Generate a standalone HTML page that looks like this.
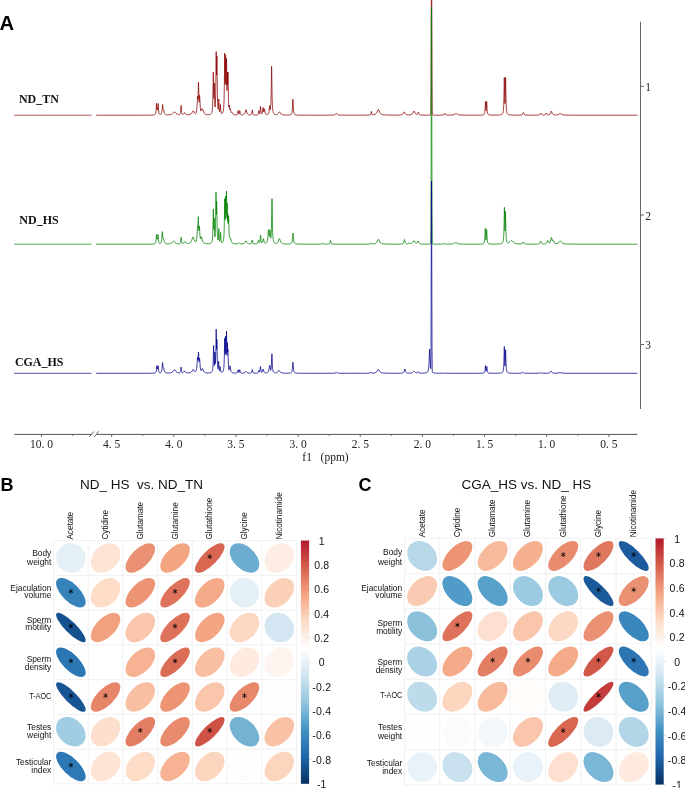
<!DOCTYPE html><html><head><meta charset="utf-8"><style>html,body{margin:0;padding:0;background:#fff;width:685px;height:788px;overflow:hidden}svg{display:block;will-change:transform}.sans{font-family:"Liberation Sans",sans-serif}.serif{font-family:"Liberation Serif",serif}</style></head><body>
<svg width="685" height="788" viewBox="0 0 685 788">
<rect width="685" height="788" fill="#fff"/>
<text class="sans" x="-0.4" y="30.1" font-size="20.3" font-weight="bold" fill="#000">A</text>
<g class="serif" font-size="12.8" font-weight="bold" fill="#111">
<text x="18.9" y="102.6" textLength="39.9" lengthAdjust="spacingAndGlyphs">ND_TN</text>
<text x="19.3" y="223.6" textLength="39.5" lengthAdjust="spacingAndGlyphs">ND_HS</text>
<text x="14.9" y="365.5" textLength="48.6" lengthAdjust="spacingAndGlyphs">CGA_HS</text>
</g>
<path d="M14,115.20 L91.5,115.20" stroke="#8b0000" stroke-width="0.8" fill="none" opacity="0.85"/>
<path d="M96.20,115.20 L146.40,115.16 L151.60,115.09 L153.90,114.91 L154.60,114.70 L155.10,114.37 L155.40,113.96 L155.70,113.13 L155.90,112.03 L156.10,109.93 L156.50,103.30 L156.90,108.94 L157.00,109.25 L157.20,108.18 L157.30,108.00 L157.40,108.24 L157.70,110.02 L158.20,103.50 L158.60,109.99 L158.90,112.65 L159.10,113.44 L159.30,113.90 L159.60,114.28 L160.10,114.56 L160.60,114.45 L161.10,114.10 L161.40,113.67 L161.70,112.85 L162.10,110.25 L162.50,104.94 L162.60,104.40 L162.70,104.80 L163.00,108.50 L163.20,110.07 L163.40,109.95 L163.60,110.17 L164.30,112.67 L164.80,113.77 L165.40,114.37 L166.20,114.72 L167.50,114.92 L168.50,114.89 L170.10,114.73 L171.30,114.44 L171.90,114.17 L172.50,113.76 L173.00,113.25 L173.90,112.10 L174.20,111.85 L174.40,111.80 L174.80,112.00 L176.00,113.46 L176.90,114.15 L177.60,114.45 L178.50,114.64 L179.20,114.70 L179.60,114.54 L179.90,114.28 L180.20,113.77 L180.50,112.57 L180.70,110.82 L181.10,105.30 L181.50,110.81 L181.70,112.55 L182.00,113.73 L182.30,114.23 L182.60,114.46 L183.00,114.37 L183.40,114.12 L183.80,113.69 L184.40,112.80 L184.70,112.60 L185.00,112.81 L185.90,114.06 L186.30,114.38 L186.80,114.61 L188.00,114.83 L189.20,114.72 L190.20,114.48 L191.00,114.09 L191.60,113.53 L192.10,112.75 L192.90,111.06 L193.20,110.80 L193.50,111.02 L194.60,113.05 L195.10,113.52 L195.50,113.66 L195.90,113.20 L196.30,112.29 L196.60,110.97 L196.80,109.48 L197.10,105.48 L197.50,96.94 L197.60,96.00 L197.70,96.30 L197.90,99.08 L198.00,99.31 L198.40,83.71 L198.50,82.00 L199.10,102.10 L199.50,95.50 L199.60,95.00 L199.70,95.86 L200.30,107.64 L200.50,109.48 L200.80,110.88 L201.60,108.73 L201.80,108.50 L201.90,108.53 L202.10,108.87 L202.60,110.19 L202.90,109.96 L203.10,110.12 L204.20,112.99 L204.60,113.61 L205.20,114.13 L206.20,114.54 L207.80,114.75 L209.40,114.59 L210.50,114.23 L210.90,113.97 L211.30,113.56 L211.80,112.56 L212.20,110.78 L212.50,107.81 L212.70,103.84 L212.90,96.23 L213.30,72.20 L213.80,97.89 L213.90,98.34 L214.30,83.00 L214.80,103.09 L215.00,106.62 L215.10,107.05 L215.20,106.26 L215.50,101.11 L215.70,93.32 L216.20,51.60 L216.50,73.06 L216.60,75.11 L216.90,56.00 L217.40,95.04 L217.60,102.40 L217.90,107.49 L218.20,109.38 L218.30,108.45 L218.80,99.00 L219.20,107.57 L219.40,110.24 L219.60,111.53 L219.70,111.87 L219.90,110.82 L220.40,104.50 L220.90,111.17 L221.20,112.83 L221.60,113.61 L222.10,113.41 L222.50,112.99 L222.90,112.24 L223.20,111.25 L223.60,108.68 L223.90,104.39 L224.10,98.66 L224.30,87.73 L224.70,53.10 L225.10,82.73 L225.20,83.85 L225.60,55.00 L226.00,83.87 L226.10,85.02 L226.50,58.50 L227.00,90.52 L227.40,72.00 L227.70,84.30 L227.90,73.96 L228.00,72.00 L228.50,99.79 L228.70,104.83 L228.90,107.22 L229.00,106.89 L229.20,105.24 L229.30,105.00 L229.80,109.48 L229.90,109.51 L230.20,108.54 L230.30,108.50 L230.50,109.19 L230.90,111.45 L231.20,112.45 L231.60,112.04 L231.80,112.00 L232.00,112.23 L232.50,113.31 L232.90,113.93 L233.40,114.36 L234.00,114.62 L234.90,114.81 L235.90,114.88 L236.70,114.75 L237.20,114.44 L237.40,114.14 L237.60,113.57 L238.10,110.60 L238.60,113.51 L238.90,114.19 L239.00,114.19 L239.10,114.04 L239.30,113.52 L239.80,110.60 L240.30,113.59 L240.50,114.16 L240.70,114.47 L241.10,114.76 L241.60,114.88 L242.70,114.79 L243.60,114.56 L244.30,114.12 L244.80,113.42 L245.20,112.36 L245.80,109.92 L246.00,109.60 L246.20,109.93 L246.80,112.37 L247.10,113.22 L247.60,114.03 L248.30,114.54 L249.20,114.80 L250.40,114.92 L251.00,114.76 L251.40,114.44 L251.60,114.09 L251.80,113.43 L252.30,110.00 L252.80,113.44 L253.00,114.10 L253.30,114.56 L253.80,114.86 L254.80,115.02 L256.20,115.03 L257.40,114.86 L257.70,114.73 L258.00,114.49 L258.30,113.93 L258.50,113.13 L258.90,110.60 L259.40,113.41 L259.50,113.69 L259.60,113.71 L259.70,113.51 L259.90,112.77 L260.10,111.28 L260.50,106.50 L261.00,112.16 L261.30,113.55 L261.60,114.06 L261.80,113.94 L262.00,113.66 L262.40,112.45 L263.00,107.81 L263.10,107.50 L263.20,107.75 L263.60,110.90 L263.80,111.86 L264.30,108.99 L264.40,108.80 L264.50,109.06 L265.10,112.91 L265.30,113.54 L265.60,114.08 L266.00,114.44 L266.60,114.65 L267.60,114.47 L268.00,114.22 L268.30,113.90 L268.70,113.07 L269.00,111.78 L269.60,106.00 L269.70,105.60 L269.80,105.88 L270.20,109.58 L270.30,109.83 L270.50,108.71 L270.70,106.58 L270.90,102.77 L271.10,95.85 L271.50,69.14 L271.60,66.30 L271.70,69.18 L272.10,96.04 L272.30,103.07 L272.50,107.03 L272.80,110.20 L273.00,111.40 L273.30,112.53 L273.60,113.22 L274.00,113.78 L274.50,114.18 L275.20,114.49 L276.20,114.66 L276.90,114.50 L277.50,114.22 L278.20,113.58 L279.10,112.13 L279.30,111.89 L279.50,111.80 L279.80,112.00 L280.60,113.33 L281.20,114.04 L281.90,114.49 L282.80,114.77 L285.20,115.02 L288.50,115.03 L290.20,114.82 L290.80,114.61 L291.20,114.33 L291.50,113.96 L291.80,113.30 L292.00,112.52 L292.20,111.22 L292.40,108.90 L292.80,100.05 L292.90,99.10 L293.00,100.05 L293.40,108.90 L293.60,111.22 L293.80,112.53 L294.10,113.57 L294.60,114.34 L295.30,114.75 L296.40,114.98 L299.00,115.12 L304.70,115.17 L326.20,115.18 L332.60,115.10 L334.00,114.98 L334.90,114.70 L335.40,114.31 L336.10,113.32 L336.30,113.20 L336.50,113.32 L337.20,114.31 L337.70,114.70 L338.50,114.96 L339.80,115.09 L344.60,115.17 L357.60,115.17 L365.80,115.12 L369.50,115.02 L370.30,114.80 L370.70,114.39 L371.00,113.52 L371.40,111.40 L371.90,113.89 L372.10,114.37 L372.40,114.70 L372.80,114.79 L374.00,114.64 L374.80,114.41 L375.50,114.07 L376.10,113.58 L376.60,112.93 L377.10,111.97 L377.90,110.02 L378.10,109.71 L378.30,109.60 L378.50,109.71 L378.70,110.02 L379.90,112.77 L380.60,113.68 L381.20,114.14 L381.90,114.46 L382.80,114.70 L384.00,114.87 L387.60,115.07 L394.40,115.14 L398.60,115.08 L400.80,114.92 L401.90,114.66 L402.70,114.17 L403.20,113.54 L403.90,112.17 L404.20,111.90 L404.50,112.17 L405.40,113.83 L405.80,114.25 L406.20,114.51 L406.90,114.76 L407.90,114.92 L408.40,114.96 L409.80,114.85 L411.20,114.52 L412.10,113.98 L412.80,113.09 L413.70,111.25 L414.00,111.00 L414.30,111.24 L415.10,112.90 L415.60,113.66 L416.20,114.19 L416.90,114.49 L417.30,114.51 L417.60,114.19 L417.80,113.80 L418.30,112.12 L418.40,112.00 L418.50,112.12 L418.90,113.57 L419.20,114.26 L419.60,114.68 L420.20,114.92 L422.00,115.08 L427.20,115.15 L429.40,115.12 L430.40,114.96 L430.60,114.62 L430.70,113.77 L430.80,111.19 L431.00,89.37 L431.40,-64.71 L431.50,-80.00 L431.60,-64.71 L432.00,89.37 L432.20,111.19 L432.30,113.78 L432.40,114.62 L432.50,114.88 L432.70,115.00 L433.10,115.08 L434.80,115.16 L440.60,115.16 L442.90,115.04 L443.50,114.89 L443.90,114.63 L444.70,113.20 L444.80,113.28 L445.30,114.37 L445.70,114.79 L446.30,115.01 L447.40,115.11 L450.90,115.07 L453.10,114.87 L454.30,114.54 L455.70,113.71 L456.10,113.60 L456.50,113.71 L457.60,114.40 L458.40,114.72 L459.50,114.93 L461.10,115.06 L466.60,115.16 L477.80,115.16 L481.40,115.08 L483.10,114.87 L483.80,114.59 L484.20,114.21 L484.50,113.63 L484.80,112.38 L485.10,109.21 L485.50,101.50 L485.90,108.74 L486.10,110.77 L486.30,108.74 L486.70,101.50 L487.10,109.21 L487.30,111.65 L487.50,112.92 L487.70,113.63 L488.00,114.21 L488.30,114.51 L488.90,114.81 L489.90,115.00 L493.80,115.13 L499.40,114.97 L500.80,114.77 L501.70,114.44 L502.10,114.17 L502.40,113.85 L502.90,112.83 L503.20,111.56 L503.50,108.94 L503.70,105.43 L503.90,98.68 L504.30,77.40 L504.70,97.68 L504.90,103.58 L505.00,103.62 L505.20,97.76 L505.60,77.60 L506.00,98.77 L506.20,105.48 L506.40,108.97 L506.70,111.58 L506.90,112.51 L507.20,113.35 L507.50,113.85 L507.90,114.26 L508.30,114.50 L508.90,114.72 L510.50,114.97 L513.40,115.10 L518.50,115.14 L521.20,114.99 L521.90,114.80 L522.40,114.45 L522.70,114.01 L523.20,112.68 L523.40,112.40 L523.60,112.68 L524.10,114.01 L524.40,114.45 L525.00,114.84 L526.00,115.05 L528.10,115.14 L532.60,115.17 L536.80,115.14 L538.60,115.02 L539.30,114.84 L539.80,114.51 L540.10,114.09 L540.50,113.22 L540.70,113.00 L540.90,113.22 L541.30,114.09 L541.60,114.50 L541.90,114.74 L542.40,114.93 L543.60,115.06 L544.50,114.96 L545.10,114.78 L545.60,114.38 L546.20,113.22 L546.40,113.00 L546.60,113.21 L547.00,114.07 L547.30,114.47 L547.70,114.75 L548.20,114.86 L549.30,114.58 L549.70,114.33 L550.00,114.02 L550.40,113.33 L551.10,111.25 L551.30,111.00 L551.50,111.25 L552.20,113.33 L552.50,113.89 L552.80,114.25 L553.20,114.54 L553.80,114.78 L555.40,115.00 L556.80,114.90 L557.90,114.67 L558.60,114.39 L559.70,113.70 L560.10,113.60 L560.50,113.71 L561.80,114.50 L562.80,114.82 L564.40,115.02 L567.00,115.12 L579.50,115.19 L637.40,115.20" stroke="#8b0000" stroke-width="0.75" fill="none" stroke-linejoin="round"/>
<path d="M14,244.20 L91.5,244.20" stroke="#008000" stroke-width="0.8" fill="none" opacity="0.85"/>
<path d="M96.20,244.20 L146.80,244.16 L151.70,244.10 L153.90,243.95 L154.60,243.78 L155.10,243.50 L155.40,243.16 L155.70,242.48 L155.90,241.57 L156.10,239.85 L156.50,234.40 L156.90,238.98 L157.00,239.12 L157.20,238.17 L157.30,238.00 L157.40,238.17 L157.60,239.12 L157.70,239.06 L158.10,234.60 L158.50,239.90 L158.80,242.06 L159.00,242.70 L159.20,243.07 L159.60,243.44 L159.90,243.50 L160.40,243.30 L160.80,242.94 L161.10,242.44 L161.40,241.48 L161.80,238.43 L162.20,232.23 L162.30,231.60 L162.40,232.08 L162.90,238.42 L163.20,237.97 L163.30,238.00 L163.40,238.17 L164.10,241.16 L164.60,242.49 L165.20,243.22 L166.00,243.63 L166.80,243.82 L167.80,243.91 L169.50,243.78 L170.70,243.51 L171.30,243.23 L171.80,242.87 L172.30,242.33 L173.10,241.24 L173.50,241.00 L173.90,241.24 L175.10,242.77 L176.00,243.38 L176.80,243.64 L177.90,243.82 L178.90,243.87 L179.50,243.72 L179.80,243.56 L180.10,243.28 L180.50,242.40 L180.70,241.43 L181.10,237.70 L181.20,237.30 L181.80,241.96 L182.00,242.68 L182.20,243.09 L182.70,243.53 L183.20,243.42 L183.70,243.09 L184.10,242.64 L184.70,241.71 L185.00,241.50 L185.30,241.71 L185.90,242.63 L186.30,243.09 L186.70,243.37 L187.20,243.57 L187.60,243.62 L188.70,243.45 L189.40,243.23 L190.00,242.92 L190.70,242.31 L191.30,241.39 L191.80,240.15 L192.60,237.44 L192.80,236.98 L193.00,236.80 L193.20,236.95 L193.40,237.39 L194.10,239.69 L194.60,240.93 L195.10,241.67 L195.40,241.92 L195.70,242.03 L196.20,241.02 L196.60,239.23 L197.00,235.39 L197.50,227.29 L197.60,226.50 L197.70,226.40 L197.90,227.47 L198.20,217.94 L198.30,216.70 L198.80,230.52 L199.10,227.10 L199.20,226.21 L199.30,226.00 L199.50,227.92 L200.00,235.88 L200.40,238.89 L200.50,238.89 L200.60,238.64 L201.20,236.76 L201.40,236.60 L201.70,237.29 L202.30,239.95 L202.70,241.27 L203.20,242.26 L203.90,242.98 L204.40,243.27 L205.10,243.51 L207.10,243.79 L208.10,243.82 L209.00,243.75 L209.80,243.61 L210.50,243.40 L210.90,243.18 L211.30,242.84 L211.80,242.02 L212.20,240.57 L212.50,238.13 L212.70,234.88 L212.90,228.66 L213.30,209.00 L213.80,229.31 L214.20,218.00 L214.70,234.23 L214.90,237.00 L215.10,235.76 L215.30,232.59 L215.50,226.27 L216.00,192.30 L216.40,214.61 L216.60,203.57 L216.70,201.40 L217.20,229.55 L217.40,234.86 L217.70,238.56 L218.00,240.05 L218.20,239.13 L218.40,236.66 L218.80,228.50 L219.20,236.92 L219.40,239.55 L219.60,240.86 L219.70,241.23 L219.80,241.34 L220.10,239.67 L220.60,232.30 L221.00,238.68 L221.20,240.70 L221.40,241.73 L221.60,242.29 L221.90,242.71 L222.10,242.72 L222.50,242.44 L222.80,242.06 L223.30,240.82 L223.60,239.26 L223.90,236.11 L224.10,231.91 L224.30,223.93 L224.70,198.60 L225.10,219.82 L225.20,219.36 L225.60,196.00 L226.00,218.24 L226.10,216.71 L226.50,191.00 L226.90,214.68 L227.20,203.00 L227.60,221.47 L227.90,214.00 L228.20,223.77 L228.30,222.82 L228.50,216.97 L228.60,216.00 L229.10,232.02 L229.40,236.56 L229.50,237.11 L229.60,236.98 L229.70,237.00 L229.80,237.24 L230.10,238.71 L230.20,238.71 L230.50,238.44 L230.70,238.68 L231.40,241.30 L231.90,242.47 L232.20,242.86 L232.60,243.21 L233.60,243.63 L234.50,243.80 L235.80,243.91 L237.20,243.81 L238.00,243.49 L238.80,242.69 L239.00,242.60 L239.20,242.69 L240.00,243.50 L240.60,243.78 L241.40,243.92 L243.10,243.74 L243.90,243.45 L244.50,243.00 L245.00,242.29 L245.60,241.07 L245.90,240.80 L246.20,241.08 L247.00,242.62 L247.60,243.27 L248.10,243.55 L248.70,243.74 L249.70,243.88 L250.20,243.85 L250.90,243.57 L251.20,243.28 L251.40,242.95 L251.70,242.05 L252.10,240.16 L252.20,240.00 L252.30,240.16 L252.90,242.72 L253.10,243.14 L253.40,243.50 L254.00,243.81 L254.80,243.95 L255.70,243.96 L256.70,243.80 L257.30,243.48 L257.70,242.93 L258.00,242.04 L258.30,240.57 L258.50,240.00 L258.60,240.14 L259.20,242.54 L259.40,242.88 L259.70,242.45 L259.90,241.78 L260.10,240.53 L260.50,235.72 L260.60,235.20 L261.20,241.25 L261.40,242.18 L261.70,242.86 L261.90,243.09 L262.00,243.03 L262.30,242.69 L262.50,242.29 L262.80,241.28 L263.20,239.14 L263.40,238.60 L263.60,239.14 L264.10,241.69 L264.40,242.54 L264.70,243.00 L265.00,243.26 L265.30,243.40 L265.70,243.31 L266.30,242.96 L266.80,242.36 L267.10,241.72 L267.40,240.65 L267.80,237.88 L268.30,231.12 L268.50,229.60 L268.60,229.88 L268.70,230.78 L269.20,236.37 L269.70,231.01 L269.90,229.80 L270.10,231.15 L270.50,236.29 L270.70,237.92 L270.80,238.15 L271.10,235.70 L271.40,229.54 L272.00,198.60 L272.10,201.28 L272.50,226.23 L272.70,232.77 L272.90,236.46 L273.20,239.42 L273.40,240.54 L273.70,241.60 L274.00,242.24 L274.40,242.77 L274.90,243.15 L275.50,243.40 L275.90,243.48 L276.60,243.29 L277.10,243.02 L277.60,242.57 L278.20,241.57 L279.10,238.98 L279.30,238.64 L279.40,238.60 L279.50,238.65 L279.70,238.99 L280.40,241.11 L280.90,242.20 L281.50,242.95 L282.30,243.45 L283.10,243.70 L284.20,243.88 L287.60,244.05 L289.80,243.89 L290.50,243.73 L291.00,243.51 L291.40,243.17 L291.70,242.73 L292.00,241.93 L292.20,241.03 L292.50,238.58 L292.90,233.43 L293.00,233.00 L293.10,233.43 L293.60,239.59 L293.80,241.04 L294.10,242.26 L294.50,243.06 L295.00,243.52 L295.80,243.83 L297.10,244.02 L303.40,244.16 L319.30,244.14 L320.50,244.08 L321.30,243.94 L322.60,243.30 L323.60,243.84 L324.40,244.04 L326.40,244.14 L328.30,244.06 L329.20,243.84 L329.70,243.39 L330.00,242.63 L330.40,240.43 L330.50,240.20 L330.60,240.43 L331.00,242.63 L331.30,243.39 L331.60,243.72 L331.90,243.89 L332.90,244.08 L335.20,244.16 L341.40,244.19 L361.60,244.16 L369.00,244.09 L369.90,244.03 L370.50,243.84 L370.80,243.60 L371.40,242.80 L372.20,243.75 L372.50,243.90 L373.00,243.89 L374.00,243.79 L374.90,243.59 L375.60,243.32 L376.20,242.92 L376.90,242.09 L378.00,239.72 L378.20,239.41 L378.40,239.30 L378.60,239.41 L378.80,239.72 L379.90,242.09 L380.60,242.93 L381.20,243.33 L381.90,243.60 L383.90,243.93 L387.90,244.10 L396.30,244.16 L400.30,244.08 L402.10,243.89 L402.60,243.74 L403.00,243.51 L403.50,242.91 L403.80,242.15 L404.30,239.88 L404.50,239.40 L404.70,239.87 L405.20,242.13 L405.50,242.88 L405.80,243.30 L406.10,243.54 L406.90,243.82 L407.20,243.83 L407.70,243.69 L408.70,243.09 L409.00,243.00 L409.30,243.09 L410.00,243.52 L410.40,243.67 L411.00,243.55 L411.50,243.37 L412.00,243.05 L412.40,242.64 L413.50,240.81 L413.80,240.60 L414.10,240.81 L414.90,242.20 L415.30,242.72 L415.80,243.14 L416.40,243.38 L416.70,243.18 L417.00,242.84 L417.80,241.17 L418.00,241.00 L418.20,241.19 L418.80,242.58 L419.20,243.18 L419.70,243.58 L420.40,243.84 L422.20,244.06 L426.00,244.15 L429.20,244.12 L430.00,244.04 L430.40,243.91 L430.60,243.50 L430.70,242.47 L430.80,239.33 L431.00,212.81 L431.40,25.58 L431.50,7.00 L431.60,25.58 L432.00,212.81 L432.20,239.33 L432.30,242.47 L432.40,243.50 L432.50,243.81 L432.70,243.96 L433.00,244.04 L434.20,244.14 L442.40,244.14 L443.20,244.07 L443.70,243.94 L444.50,243.30 L445.20,243.88 L445.90,244.08 L447.50,244.12 L450.70,244.03 L452.20,243.90 L453.30,243.67 L454.10,243.35 L455.30,242.60 L455.70,242.50 L456.10,242.60 L457.30,243.35 L458.10,243.67 L459.30,243.91 L461.00,244.05 L466.70,244.15 L477.70,244.15 L481.20,244.05 L482.90,243.82 L483.60,243.49 L484.00,243.05 L484.30,242.38 L484.60,240.92 L484.90,237.21 L485.30,228.20 L485.70,236.89 L486.00,240.18 L486.10,239.79 L486.30,237.46 L486.70,229.60 L487.10,237.81 L487.30,240.41 L487.60,242.19 L487.90,242.97 L488.20,243.37 L488.80,243.74 L489.60,243.94 L490.90,244.06 L493.10,244.11 L499.20,243.97 L500.70,243.78 L501.70,243.47 L502.10,243.23 L502.50,242.83 L503.00,241.84 L503.30,240.59 L503.60,238.04 L503.80,234.61 L504.00,228.04 L504.40,207.30 L504.90,229.87 L505.00,230.94 L505.10,228.20 L505.50,211.40 L505.90,229.77 L506.20,237.32 L506.40,239.56 L506.70,241.30 L507.10,242.37 L507.40,242.79 L507.70,243.02 L508.40,242.86 L509.10,242.48 L509.70,241.97 L510.80,240.79 L511.10,240.57 L511.40,240.50 L511.90,240.72 L513.30,242.25 L514.20,242.93 L515.40,243.44 L516.90,243.75 L520.20,243.98 L521.00,243.99 L521.70,243.85 L522.20,243.61 L522.50,243.30 L523.10,242.03 L523.30,241.80 L523.50,242.04 L523.90,242.98 L524.20,243.43 L524.70,243.79 L525.40,243.98 L526.80,244.10 L529.10,244.13 L534.30,244.14 L537.40,244.07 L538.80,243.88 L539.30,243.67 L539.60,243.44 L540.00,242.82 L540.50,241.32 L540.70,241.00 L540.90,241.31 L541.50,243.01 L542.00,243.59 L542.50,243.82 L543.10,243.94 L543.60,243.98 L544.60,243.90 L545.70,243.62 L546.40,243.12 L546.80,242.52 L547.50,240.72 L547.70,240.50 L547.90,240.70 L548.50,242.21 L548.80,242.72 L549.20,243.08 L549.60,242.85 L550.00,242.34 L550.40,241.40 L551.20,237.73 L551.40,237.30 L551.60,237.62 L552.30,240.50 L552.40,240.62 L552.70,240.16 L552.90,240.00 L553.10,240.07 L554.00,242.08 L554.40,242.72 L555.00,243.26 L555.90,243.61 L557.00,243.45 L558.00,243.03 L558.70,242.45 L559.80,241.18 L560.20,241.00 L560.40,241.05 L560.70,241.29 L562.00,242.78 L563.00,243.40 L563.80,243.66 L564.70,243.82 L567.40,244.04 L580.20,244.17 L637.40,244.20" stroke="#008000" stroke-width="0.75" fill="none" stroke-linejoin="round"/>
<path d="M14,373.30 L91.5,373.30" stroke="#00008b" stroke-width="0.8" fill="none" opacity="0.85"/>
<path d="M96.20,373.30 L146.80,373.27 L152.00,373.22 L154.20,373.10 L154.90,372.96 L155.40,372.75 L155.70,372.48 L156.00,371.95 L156.20,371.25 L156.40,369.93 L156.80,365.70 L156.90,366.08 L157.10,368.10 L157.20,368.37 L157.40,368.00 L157.70,368.90 L158.10,365.70 L158.50,369.89 L158.80,371.60 L159.00,372.11 L159.30,372.51 L159.80,372.78 L160.10,372.76 L160.70,372.55 L161.10,372.24 L161.40,371.80 L161.70,370.97 L162.10,368.36 L162.50,363.05 L162.60,362.50 L162.70,362.90 L163.00,366.59 L163.20,368.08 L163.40,367.95 L163.60,368.17 L164.30,370.73 L164.80,371.85 L165.40,372.47 L166.20,372.82 L167.60,373.03 L168.60,373.00 L170.20,372.84 L171.40,372.54 L172.00,372.26 L172.60,371.80 L173.10,371.23 L174.00,369.94 L174.40,369.70 L174.80,369.94 L176.10,371.69 L176.80,372.24 L177.40,372.53 L178.10,372.72 L179.00,372.85 L179.60,372.84 L179.90,372.68 L180.20,372.36 L180.50,371.62 L180.70,370.53 L181.10,367.10 L181.50,370.52 L181.70,371.60 L182.00,372.33 L182.40,372.69 L182.90,372.53 L183.30,372.27 L184.20,371.18 L184.50,371.00 L184.80,371.18 L185.70,372.30 L186.10,372.58 L186.60,372.79 L187.90,372.99 L189.20,372.88 L190.20,372.67 L191.00,372.32 L191.60,371.83 L192.10,371.14 L192.90,369.63 L193.20,369.40 L193.50,369.60 L194.60,371.38 L195.00,371.72 L195.30,371.84 L195.70,371.46 L196.10,370.74 L196.40,369.77 L196.60,368.76 L196.90,366.30 L197.40,358.84 L197.60,357.00 L197.70,357.13 L198.00,359.92 L198.10,359.46 L198.40,352.80 L198.50,352.00 L198.60,352.89 L199.00,361.64 L199.40,358.16 L199.50,358.00 L199.70,359.68 L200.30,367.50 L200.60,369.35 L200.80,370.09 L201.10,370.76 L201.50,370.22 L202.10,368.80 L202.30,368.53 L202.40,368.50 L202.70,368.91 L203.30,370.59 L203.70,371.42 L204.20,372.05 L204.80,372.46 L205.40,372.69 L206.10,372.84 L208.10,373.00 L209.70,372.90 L210.90,372.63 L211.30,372.44 L211.70,372.13 L212.20,371.37 L212.50,370.43 L212.80,368.50 L213.00,365.92 L213.20,360.97 L213.60,345.40 L214.00,360.24 L214.30,365.72 L214.50,362.96 L214.90,352.00 L215.40,363.79 L215.60,360.58 L215.80,353.32 L216.20,329.20 L216.60,349.40 L216.80,341.14 L216.90,339.50 L217.40,361.62 L217.60,365.74 L217.80,367.85 L218.00,368.87 L218.10,368.21 L218.60,361.20 L219.00,367.63 L219.20,369.63 L219.40,370.59 L219.50,370.74 L219.70,369.78 L220.10,366.40 L220.50,370.04 L220.70,371.19 L221.00,371.97 L221.20,372.22 L221.50,372.40 L222.00,372.29 L222.50,372.01 L222.90,371.57 L223.20,371.01 L223.60,369.55 L223.90,367.12 L224.10,363.88 L224.30,357.73 L224.70,338.20 L225.10,354.56 L225.20,354.13 L225.60,336.00 L226.00,353.30 L226.10,351.64 L226.50,331.20 L227.00,355.33 L227.40,342.80 L227.70,351.97 L227.80,349.79 L227.90,349.20 L228.40,364.84 L228.60,367.72 L228.80,369.25 L229.00,370.08 L229.20,369.68 L229.50,368.33 L229.80,366.32 L230.00,365.70 L230.20,366.47 L230.70,369.94 L231.10,371.37 L231.40,371.93 L231.80,372.35 L232.40,372.68 L233.10,372.88 L234.30,373.03 L235.80,373.10 L236.60,373.01 L237.10,372.81 L237.40,372.50 L237.60,372.05 L238.10,369.70 L238.60,372.00 L238.80,372.42 L239.00,372.53 L239.30,372.00 L239.80,369.70 L240.20,371.69 L240.40,372.32 L240.70,372.76 L241.10,372.98 L242.30,373.14 L243.50,373.07 L244.30,372.91 L245.00,372.53 L245.80,371.51 L246.00,371.40 L246.20,371.51 L247.00,372.53 L247.60,372.88 L249.00,373.13 L249.70,373.16 L250.50,373.08 L251.20,372.84 L251.60,372.38 L251.80,371.87 L252.20,369.91 L252.30,369.70 L252.90,372.16 L253.10,372.54 L253.40,372.84 L254.00,373.06 L255.00,373.17 L256.30,373.17 L257.40,373.03 L257.90,372.81 L258.30,372.31 L258.90,370.30 L259.00,370.45 L259.40,371.89 L259.50,372.04 L259.70,371.71 L260.00,370.48 L260.40,366.80 L260.50,366.40 L261.10,371.05 L261.40,371.98 L261.70,372.37 L262.00,372.14 L262.30,371.64 L262.90,369.41 L263.10,369.00 L263.30,369.42 L263.90,371.69 L264.40,372.46 L264.90,372.77 L265.60,372.95 L266.60,372.81 L267.30,372.58 L267.70,372.33 L268.10,371.91 L268.60,370.88 L269.00,369.16 L269.50,365.73 L269.70,365.10 L269.90,365.66 L270.50,369.37 L270.80,370.29 L270.90,369.99 L271.20,368.07 L271.40,365.37 L271.80,354.82 L271.90,353.70 L272.00,354.85 L272.40,365.56 L272.60,368.36 L272.80,369.95 L273.10,371.22 L273.30,371.70 L273.60,372.16 L273.90,372.43 L274.30,372.66 L275.30,372.91 L276.40,372.74 L277.20,372.36 L277.80,371.77 L278.60,370.50 L278.90,370.30 L279.20,370.51 L280.00,371.78 L280.50,372.32 L281.10,372.68 L282.00,372.94 L284.20,373.15 L287.70,373.19 L289.90,373.04 L290.50,372.90 L291.00,372.69 L291.40,372.37 L291.70,371.92 L292.10,370.62 L292.40,368.32 L292.80,362.72 L292.90,362.20 L293.00,362.72 L293.50,369.30 L293.90,371.42 L294.30,372.25 L294.80,372.70 L295.60,372.99 L296.80,373.14 L299.40,373.24 L304.60,373.28 L332.50,373.25 L334.00,373.19 L334.90,373.05 L335.40,372.86 L336.10,372.36 L336.30,372.30 L336.50,372.36 L337.20,372.86 L337.70,373.05 L338.50,373.18 L339.70,373.24 L367.60,373.23 L369.00,373.18 L369.80,373.02 L370.20,372.75 L370.80,372.00 L371.40,372.74 L371.70,372.96 L372.10,373.09 L372.80,373.08 L374.90,372.83 L375.60,372.62 L376.20,372.31 L376.90,371.67 L378.00,369.83 L378.20,369.59 L378.40,369.50 L378.70,369.69 L379.70,371.40 L380.30,372.08 L381.20,372.62 L382.40,372.93 L384.40,373.12 L387.70,373.22 L396.10,373.27 L400.60,373.20 L402.60,373.01 L403.20,372.80 L403.60,372.51 L404.10,371.71 L404.70,369.34 L404.90,368.90 L405.10,369.34 L405.60,371.42 L405.90,372.12 L406.20,372.51 L406.50,372.74 L407.50,373.05 L409.40,373.14 L410.70,373.04 L411.60,372.88 L412.60,372.44 L413.70,371.42 L414.00,371.30 L414.30,371.41 L415.50,372.49 L416.10,372.75 L416.70,372.87 L417.20,372.62 L417.80,371.76 L418.00,371.60 L418.20,371.77 L418.70,372.55 L419.00,372.81 L419.50,373.02 L420.20,373.14 L422.30,373.16 L424.70,373.03 L426.00,372.83 L426.90,372.48 L427.50,371.98 L428.00,371.12 L428.30,370.16 L428.60,368.43 L429.00,363.33 L429.50,349.94 L429.60,349.00 L429.70,349.93 L430.30,365.04 L430.60,368.27 L430.70,368.72 L430.80,368.29 L431.00,347.10 L431.40,195.98 L431.50,181.00 L431.60,196.07 L432.00,347.62 L432.20,369.11 L432.30,371.67 L432.40,372.38 L432.50,372.50 L433.30,372.83 L434.50,373.04 L436.40,373.16 L439.50,373.23 L443.20,373.25 L443.90,373.18 L444.70,373.00 L445.90,373.23 L448.10,373.28 L477.40,373.28 L481.20,373.24 L483.00,373.13 L483.60,373.02 L484.10,372.82 L484.40,372.56 L484.70,372.03 L484.90,371.31 L485.10,369.93 L485.50,365.60 L485.90,369.75 L486.10,370.98 L486.20,371.15 L486.40,370.12 L486.80,366.50 L487.20,370.32 L487.40,371.53 L487.70,372.36 L488.00,372.73 L488.30,372.91 L489.00,373.10 L490.20,373.21 L495.70,373.24 L499.80,373.11 L500.90,372.98 L501.70,372.77 L502.40,372.35 L502.90,371.64 L503.20,370.74 L503.50,368.90 L503.70,366.41 L503.90,361.64 L504.30,346.60 L504.70,361.02 L504.90,365.26 L505.00,365.89 L505.20,362.30 L505.60,349.80 L506.00,363.02 L506.20,367.21 L506.40,369.39 L506.70,371.02 L507.10,371.99 L507.70,372.59 L508.70,372.96 L510.00,373.12 L512.20,373.22 L517.50,373.27 L520.10,373.22 L521.00,373.13 L521.60,372.98 L522.70,372.20 L522.90,372.28 L523.50,372.82 L523.90,373.02 L524.60,373.16 L525.60,373.23 L538.50,373.25 L539.70,373.11 L540.70,372.60 L541.50,373.04 L542.30,373.21 L543.80,373.26 L547.10,373.20 L548.60,373.07 L549.50,372.81 L550.10,372.33 L550.80,371.23 L551.00,371.10 L551.20,371.23 L551.90,372.32 L552.50,372.80 L553.50,373.08 L555.30,373.21 L557.80,373.08 L560.10,372.60 L561.80,372.99 L562.80,373.13 L567.00,373.27 L637.40,373.30" stroke="#00008b" stroke-width="0.75" fill="none" stroke-linejoin="round"/>
<g stroke="#555" stroke-width="0.9" fill="none">
<path d="M14.4,434.4 H91.3 M96.3,434.4 H637.2" stroke-width="1"/>
<path d="M41.50,434.4 V436.9"/>
<path d="M111.65,434.4 V436.9"/>
<path d="M173.80,434.4 V436.9"/>
<path d="M235.95,434.4 V436.9"/>
<path d="M298.10,434.4 V436.9"/>
<path d="M360.25,434.4 V436.9"/>
<path d="M422.40,434.4 V436.9"/>
<path d="M484.55,434.4 V436.9"/>
<path d="M546.70,434.4 V436.9"/>
<path d="M608.85,434.4 V436.9"/>
<path d="M72.70,434.4 V435.8"/>
<path d="M142.72,434.4 V435.8"/>
<path d="M204.87,434.4 V435.8"/>
<path d="M267.02,434.4 V435.8"/>
<path d="M329.17,434.4 V435.8"/>
<path d="M391.32,434.4 V435.8"/>
<path d="M453.47,434.4 V435.8"/>
<path d="M515.62,434.4 V435.8"/>
<path d="M577.77,434.4 V435.8"/>
<path d="M89.2,436.9 L93.8,431.5 M94.2,436.9 L98.8,431.2" stroke-width="0.9"/>
</g>
<g class="serif" font-size="11.5" fill="#222" text-anchor="middle">
<text x="41.50" y="447.8">10. 0</text>
<text x="111.65" y="447.8">4. 5</text>
<text x="173.80" y="447.8">4. 0</text>
<text x="235.95" y="447.8">3. 5</text>
<text x="298.10" y="447.8">3. 0</text>
<text x="360.25" y="447.8">2. 5</text>
<text x="422.40" y="447.8">2. 0</text>
<text x="484.55" y="447.8">1. 5</text>
<text x="546.70" y="447.8">1. 0</text>
<text x="608.85" y="447.8">0. 5</text>
</g>
<text class="serif" x="302.3" y="461.3" font-size="11.5" fill="#222">f1</text>
<text class="serif" x="320.6" y="461.3" font-size="11.5" fill="#222">(ppm)</text>
<g stroke="#555" stroke-width="0.9" fill="none">
<path d="M640.5,21.8 V409"/>
<path d="M640.5,86.4 H644"/>
<path d="M640.5,215.0 H644"/>
<path d="M640.5,344.5 H644"/>
</g>
<g class="serif" font-size="11.5" fill="#222">
<text x="645.2" y="91.0">1</text>
<text x="645.2" y="219.6">2</text>
<text x="645.2" y="349.1">3</text>
</g>
<defs><linearGradient id="cb" x1="0" y1="0" x2="0" y2="1">
<stop offset="0.0000" stop-color="#B2182B"/>
<stop offset="0.1111" stop-color="#D6604D"/>
<stop offset="0.2222" stop-color="#F4A582"/>
<stop offset="0.3333" stop-color="#FDDBC7"/>
<stop offset="0.4444" stop-color="#FFFFFF"/>
<stop offset="0.5556" stop-color="#D1E5F0"/>
<stop offset="0.6667" stop-color="#92C5DE"/>
<stop offset="0.7778" stop-color="#4393C3"/>
<stop offset="0.8889" stop-color="#2166AC"/>
<stop offset="1.0000" stop-color="#053061"/>
</linearGradient></defs>
<text class="sans" x="0.5" y="490.9" font-size="18" font-weight="bold" fill="#000">B</text>
<text class="sans" x="79.9" y="489.3" font-size="13.5" fill="#111" xml:space="preserve">ND_ HS  vs. ND_TN</text>
<g stroke="#eeeeee" stroke-width="0.8" fill="none">
<path d="M53.50,540.60 V783.85"/>
<path d="M53.50,540.60 H296.61"/>
<path d="M88.23,540.60 V783.85"/>
<path d="M53.50,575.35 H296.61"/>
<path d="M122.96,540.60 V783.85"/>
<path d="M53.50,610.10 H296.61"/>
<path d="M157.69,540.60 V783.85"/>
<path d="M53.50,644.85 H296.61"/>
<path d="M192.42,540.60 V783.85"/>
<path d="M53.50,679.60 H296.61"/>
<path d="M227.15,540.60 V783.85"/>
<path d="M53.50,714.35 H296.61"/>
<path d="M261.88,540.60 V783.85"/>
<path d="M53.50,749.10 H296.61"/>
<path d="M296.61,540.60 V783.85"/>
<path d="M53.50,783.85 H296.61"/>
</g>
<ellipse cx="70.86" cy="557.98" rx="14.62" ry="14.91" transform="rotate(-45 70.86 557.98)" fill="#e4f0f6"/>
<ellipse cx="105.59" cy="557.98" rx="16.70" ry="12.53" transform="rotate(-45 105.59 557.98)" fill="#fde4d4"/>
<ellipse cx="140.32" cy="557.98" rx="18.79" ry="9.10" transform="rotate(-45 140.32 557.98)" fill="#eb9173"/>
<ellipse cx="175.06" cy="557.98" rx="18.44" ry="9.79" transform="rotate(-45 175.06 557.98)" fill="#f3a481"/>
<ellipse cx="209.78" cy="557.98" rx="19.59" ry="7.23" transform="rotate(-45 209.78 557.98)" fill="#d86651"/>
<path d="M209.78,554.23 v4.90 M207.66,555.45 l4.24,2.45 M207.66,557.90 l4.24,-2.45" stroke="#000" stroke-width="0.75"/>
<ellipse cx="244.51" cy="557.98" rx="11.05" ry="17.72" transform="rotate(-45 244.51 557.98)" fill="#6cadd1"/>
<ellipse cx="279.25" cy="557.98" rx="16.31" ry="13.04" transform="rotate(-45 279.25 557.98)" fill="#feede4"/>
<ellipse cx="70.86" cy="592.73" rx="8.86" ry="18.91" transform="rotate(-45 70.86 592.73)" fill="#3682ba"/>
<path d="M70.86,588.98 v4.90 M68.74,590.20 l4.24,2.45 M68.74,592.65 l4.24,-2.45" stroke="#000" stroke-width="0.75"/>
<ellipse cx="105.59" cy="592.73" rx="17.03" ry="12.09" transform="rotate(-45 105.59 592.73)" fill="#fddcc8"/>
<ellipse cx="140.32" cy="592.73" rx="18.73" ry="9.22" transform="rotate(-45 140.32 592.73)" fill="#ed9475"/>
<ellipse cx="175.06" cy="592.73" rx="19.36" ry="7.81" transform="rotate(-45 175.06 592.73)" fill="#de725b"/>
<path d="M175.06,588.98 v4.90 M172.93,590.20 l4.24,2.45 M172.93,592.65 l4.24,-2.45" stroke="#000" stroke-width="0.75"/>
<ellipse cx="209.78" cy="592.73" rx="18.26" ry="10.12" transform="rotate(-45 209.78 592.73)" fill="#f5ab8a"/>
<ellipse cx="244.51" cy="592.73" rx="14.62" ry="14.91" transform="rotate(-45 244.51 592.73)" fill="#e4f0f6"/>
<ellipse cx="279.25" cy="592.73" rx="17.34" ry="11.63" transform="rotate(-45 279.25 592.73)" fill="#fbd0b9"/>
<ellipse cx="70.86" cy="627.48" rx="5.52" ry="20.14" transform="rotate(-45 70.86 627.48)" fill="#175290"/>
<path d="M70.86,623.73 v4.90 M68.74,624.95 l4.24,2.45 M68.74,627.40 l4.24,-2.45" stroke="#000" stroke-width="0.75"/>
<ellipse cx="105.59" cy="627.48" rx="18.50" ry="9.68" transform="rotate(-45 105.59 627.48)" fill="#f2a17f"/>
<ellipse cx="140.32" cy="627.48" rx="17.59" ry="11.24" transform="rotate(-45 140.32 627.48)" fill="#f9c6ac"/>
<ellipse cx="175.06" cy="627.48" rx="19.36" ry="7.81" transform="rotate(-45 175.06 627.48)" fill="#de725b"/>
<path d="M175.06,623.73 v4.90 M172.93,624.95 l4.24,2.45 M172.93,627.40 l4.24,-2.45" stroke="#000" stroke-width="0.75"/>
<ellipse cx="209.78" cy="627.48" rx="18.38" ry="9.90" transform="rotate(-45 209.78 627.48)" fill="#f4a684"/>
<ellipse cx="244.51" cy="627.48" rx="17.15" ry="11.90" transform="rotate(-45 244.51 627.48)" fill="#fcd7c2"/>
<ellipse cx="279.25" cy="627.48" rx="14.01" ry="15.49" transform="rotate(-45 279.25 627.48)" fill="#d3e6f1"/>
<ellipse cx="70.86" cy="662.23" rx="8.09" ry="19.25" transform="rotate(-45 70.86 662.23)" fill="#2d76b4"/>
<path d="M70.86,658.48 v4.90 M68.74,659.70 l4.24,2.45 M68.74,662.15 l4.24,-2.45" stroke="#000" stroke-width="0.75"/>
<ellipse cx="105.59" cy="662.23" rx="15.56" ry="13.93" transform="rotate(-45 105.59 662.23)" fill="#ffffff"/>
<ellipse cx="140.32" cy="662.23" rx="18.08" ry="10.44" transform="rotate(-45 140.32 662.23)" fill="#f6b293"/>
<ellipse cx="175.06" cy="662.23" rx="19.48" ry="7.53" transform="rotate(-45 175.06 662.23)" fill="#db6c56"/>
<path d="M175.06,658.48 v4.90 M172.93,659.70 l4.24,2.45 M172.93,662.15 l4.24,-2.45" stroke="#000" stroke-width="0.75"/>
<ellipse cx="209.78" cy="662.23" rx="17.78" ry="10.95" transform="rotate(-45 209.78 662.23)" fill="#f8bfa3"/>
<ellipse cx="244.51" cy="662.23" rx="16.44" ry="12.87" transform="rotate(-45 244.51 662.23)" fill="#feeadf"/>
<ellipse cx="279.25" cy="662.23" rx="15.97" ry="13.45" transform="rotate(-45 279.25 662.23)" fill="#fef5f0"/>
<ellipse cx="70.86" cy="696.98" rx="5.72" ry="20.08" transform="rotate(-45 70.86 696.98)" fill="#185494"/>
<path d="M70.86,693.23 v4.90 M68.74,694.45 l4.24,2.45 M68.74,696.90 l4.24,-2.45" stroke="#000" stroke-width="0.75"/>
<ellipse cx="105.59" cy="696.98" rx="19.02" ry="8.61" transform="rotate(-45 105.59 696.98)" fill="#e68569"/>
<path d="M105.59,693.23 v4.90 M103.47,694.45 l4.24,2.45 M103.47,696.90 l4.24,-2.45" stroke="#000" stroke-width="0.75"/>
<ellipse cx="140.32" cy="696.98" rx="17.78" ry="10.95" transform="rotate(-45 140.32 696.98)" fill="#f8bfa3"/>
<ellipse cx="175.06" cy="696.98" rx="18.73" ry="9.22" transform="rotate(-45 175.06 696.98)" fill="#ed9475"/>
<ellipse cx="209.78" cy="696.98" rx="17.59" ry="11.24" transform="rotate(-45 209.78 696.98)" fill="#f9c6ac"/>
<ellipse cx="244.51" cy="696.98" rx="18.97" ry="8.73" transform="rotate(-45 244.51 696.98)" fill="#e7886b"/>
<path d="M244.51,693.23 v4.90 M242.39,694.45 l4.24,2.45 M242.39,696.90 l4.24,-2.45" stroke="#000" stroke-width="0.75"/>
<ellipse cx="279.25" cy="696.98" rx="15.63" ry="13.85" transform="rotate(-45 279.25 696.98)" fill="#fffefd"/>
<ellipse cx="70.86" cy="731.73" rx="12.53" ry="16.70" transform="rotate(-45 70.86 731.73)" fill="#a1cde2"/>
<ellipse cx="105.59" cy="731.73" rx="16.90" ry="12.26" transform="rotate(-45 105.59 731.73)" fill="#fddfcd"/>
<ellipse cx="140.32" cy="731.73" rx="19.14" ry="8.35" transform="rotate(-45 140.32 731.73)" fill="#e37e64"/>
<path d="M140.32,727.98 v4.90 M138.20,729.20 l4.24,2.45 M138.20,731.65 l4.24,-2.45" stroke="#000" stroke-width="0.75"/>
<ellipse cx="175.06" cy="731.73" rx="18.91" ry="8.86" transform="rotate(-45 175.06 731.73)" fill="#e98b6e"/>
<ellipse cx="209.78" cy="731.73" rx="19.92" ry="6.26" transform="rotate(-45 209.78 731.73)" fill="#cf5247"/>
<path d="M209.78,727.98 v4.90 M207.66,729.20 l4.24,2.45 M207.66,731.65 l4.24,-2.45" stroke="#000" stroke-width="0.75"/>
<ellipse cx="244.51" cy="731.73" rx="11.24" ry="17.59" transform="rotate(-45 244.51 731.73)" fill="#73b2d3"/>
<ellipse cx="279.25" cy="731.73" rx="17.72" ry="11.05" transform="rotate(-45 279.25 731.73)" fill="#f9c1a6"/>
<ellipse cx="70.86" cy="766.48" rx="8.22" ry="19.19" transform="rotate(-45 70.86 766.48)" fill="#2e78b5"/>
<path d="M70.86,762.73 v4.90 M68.74,763.95 l4.24,2.45 M68.74,766.40 l4.24,-2.45" stroke="#000" stroke-width="0.75"/>
<ellipse cx="105.59" cy="766.48" rx="16.70" ry="12.53" transform="rotate(-45 105.59 766.48)" fill="#fde4d4"/>
<ellipse cx="140.32" cy="766.48" rx="17.03" ry="12.09" transform="rotate(-45 140.32 766.48)" fill="#fddcc8"/>
<ellipse cx="175.06" cy="766.48" rx="18.08" ry="10.44" transform="rotate(-45 175.06 766.48)" fill="#f6b293"/>
<ellipse cx="209.78" cy="766.48" rx="17.22" ry="11.81" transform="rotate(-45 209.78 766.48)" fill="#fcd5bf"/>
<ellipse cx="244.51" cy="766.48" rx="15.41" ry="14.08" transform="rotate(-45 244.51 766.48)" fill="#fbfdfe"/>
<ellipse cx="279.25" cy="766.48" rx="17.22" ry="11.81" transform="rotate(-45 279.25 766.48)" fill="#fcd5bf"/>
<g class="sans" font-size="8.2" fill="#111">
<text transform="translate(73.36,539.60) rotate(-90)">Acetate</text>
<text transform="translate(108.09,539.60) rotate(-90)">Cytidine</text>
<text transform="translate(142.82,539.60) rotate(-90)">Glutamate</text>
<text transform="translate(177.56,539.60) rotate(-90)">Glutamine</text>
<text transform="translate(212.28,539.60) rotate(-90)">Glutathione</text>
<text transform="translate(247.01,539.60) rotate(-90)">Glycine</text>
<text transform="translate(281.75,539.60) rotate(-90)">Nicotinamide</text>
</g>
<g class="sans" font-size="8.4" fill="#111" text-anchor="end">
<text x="51.3" y="555.90">Body</text>
<text x="51.3" y="565.40">weight</text>
<text x="51.3" y="590.90">Ejaculation</text>
<text x="51.3" y="597.90">volume</text>
<text x="51.3" y="622.60">Sperm</text>
<text x="51.3" y="630.40">motility</text>
<text x="51.3" y="661.70">Sperm</text>
<text x="51.3" y="669.50">density</text>
<text x="51.3" y="698.50" textLength="22" lengthAdjust="spacingAndGlyphs">T-AOC</text>
<text x="51.3" y="729.70">Testes</text>
<text x="51.3" y="738.40">weight</text>
<text x="51.3" y="764.80">Testicular</text>
<text x="51.3" y="772.70">index</text>
</g>
<rect x="300.90" y="540.50" width="8.20" height="243.30" fill="url(#cb)"/>
<g stroke="#bbb" stroke-width="0.6">
<path d="M309.10,540.50 h1.6"/>
<path d="M309.10,564.83 h1.6"/>
<path d="M309.10,589.16 h1.6"/>
<path d="M309.10,613.49 h1.6"/>
<path d="M309.10,637.82 h1.6"/>
<path d="M309.10,662.15 h1.6"/>
<path d="M309.10,686.48 h1.6"/>
<path d="M309.10,710.81 h1.6"/>
<path d="M309.10,735.14 h1.6"/>
<path d="M309.10,759.47 h1.6"/>
<path d="M309.10,783.80 h1.6"/>
</g>
<g class="sans" font-size="10.5" fill="#111" text-anchor="middle" letter-spacing="0.2">
<text x="321.80" y="544.80">1</text>
<text x="321.80" y="569.13">0.8</text>
<text x="321.80" y="593.46">0.6</text>
<text x="321.80" y="617.79">0.4</text>
<text x="321.80" y="642.12">0.2</text>
<text x="321.80" y="666.45">0</text>
<text x="321.80" y="690.78">-0.2</text>
<text x="321.80" y="715.11">-0.4</text>
<text x="321.80" y="739.44">-0.6</text>
<text x="321.80" y="763.77">-0.8</text>
<text x="321.80" y="788.10">-1</text>
</g>
<text class="sans" x="358.4" y="491.2" font-size="18" font-weight="bold" fill="#000">C</text>
<text class="sans" x="461.4" y="489.3" font-size="13.5" fill="#111" xml:space="preserve">CGA_HS vs. ND_ HS</text>
<g stroke="#eeeeee" stroke-width="0.8" fill="none">
<path d="M404.50,538.30 V784.70"/>
<path d="M404.50,538.30 H651.39"/>
<path d="M439.77,538.30 V784.70"/>
<path d="M404.50,573.50 H651.39"/>
<path d="M475.04,538.30 V784.70"/>
<path d="M404.50,608.70 H651.39"/>
<path d="M510.31,538.30 V784.70"/>
<path d="M404.50,643.90 H651.39"/>
<path d="M545.58,538.30 V784.70"/>
<path d="M404.50,679.10 H651.39"/>
<path d="M580.85,538.30 V784.70"/>
<path d="M404.50,714.30 H651.39"/>
<path d="M616.12,538.30 V784.70"/>
<path d="M404.50,749.50 H651.39"/>
<path d="M651.39,538.30 V784.70"/>
<path d="M404.50,784.70 H651.39"/>
</g>
<ellipse cx="422.13" cy="555.90" rx="13.39" ry="16.40" transform="rotate(-45 422.13 555.90)" fill="#b8d8e9"/>
<ellipse cx="457.40" cy="555.90" rx="19.00" ry="9.35" transform="rotate(-45 457.40 555.90)" fill="#ed9475"/>
<ellipse cx="492.68" cy="555.90" rx="18.16" ry="10.90" transform="rotate(-45 492.68 555.90)" fill="#f7ba9d"/>
<ellipse cx="527.95" cy="555.90" rx="18.40" ry="10.48" transform="rotate(-45 527.95 555.90)" fill="#f6b090"/>
<ellipse cx="563.22" cy="555.90" rx="19.18" ry="8.98" transform="rotate(-45 563.22 555.90)" fill="#e98b6e"/>
<path d="M563.22,552.15 v4.90 M561.09,553.38 l4.24,2.45 M561.09,555.83 l4.24,-2.45" stroke="#000" stroke-width="0.75"/>
<ellipse cx="598.49" cy="555.90" rx="19.52" ry="8.20" transform="rotate(-45 598.49 555.90)" fill="#e07860"/>
<path d="M598.49,552.15 v4.90 M596.36,553.38 l4.24,2.45 M596.36,555.83 l4.24,-2.45" stroke="#000" stroke-width="0.75"/>
<ellipse cx="633.75" cy="555.90" rx="6.35" ry="20.20" transform="rotate(-45 633.75 555.90)" fill="#1c5c9e"/>
<path d="M633.75,552.15 v4.90 M631.63,553.38 l4.24,2.45 M631.63,555.83 l4.24,-2.45" stroke="#000" stroke-width="0.75"/>
<ellipse cx="422.13" cy="591.10" rx="17.72" ry="11.60" transform="rotate(-45 422.13 591.10)" fill="#facbb2"/>
<ellipse cx="457.40" cy="591.10" rx="10.37" ry="18.46" transform="rotate(-45 457.40 591.10)" fill="#509bc7"/>
<ellipse cx="492.68" cy="591.10" rx="10.59" ry="18.34" transform="rotate(-45 492.68 591.10)" fill="#57a0ca"/>
<ellipse cx="527.95" cy="591.10" rx="12.53" ry="17.07" transform="rotate(-45 527.95 591.10)" fill="#9bcae1"/>
<ellipse cx="563.22" cy="591.10" rx="12.53" ry="17.07" transform="rotate(-45 563.22 591.10)" fill="#9bcae1"/>
<ellipse cx="598.49" cy="591.10" rx="6.17" ry="20.26" transform="rotate(-45 598.49 591.10)" fill="#1a599a"/>
<path d="M598.49,587.35 v4.90 M596.36,588.57 l4.24,2.45 M596.36,591.02 l4.24,-2.45" stroke="#000" stroke-width="0.75"/>
<ellipse cx="633.75" cy="591.10" rx="19.06" ry="9.23" transform="rotate(-45 633.75 591.10)" fill="#eb9173"/>
<path d="M633.75,587.35 v4.90 M631.63,588.57 l4.24,2.45 M631.63,591.02 l4.24,-2.45" stroke="#000" stroke-width="0.75"/>
<ellipse cx="422.13" cy="626.30" rx="12.07" ry="17.40" transform="rotate(-45 422.13 626.30)" fill="#8cc1dc"/>
<ellipse cx="457.40" cy="626.30" rx="19.64" ry="7.92" transform="rotate(-45 457.40 626.30)" fill="#de725b"/>
<path d="M457.40,622.55 v4.90 M455.28,623.77 l4.24,2.45 M455.28,626.23 l4.24,-2.45" stroke="#000" stroke-width="0.75"/>
<ellipse cx="492.68" cy="626.30" rx="17.07" ry="12.53" transform="rotate(-45 492.68 626.30)" fill="#fde0cf"/>
<ellipse cx="527.95" cy="626.30" rx="17.84" ry="11.40" transform="rotate(-45 527.95 626.30)" fill="#f9c6ac"/>
<ellipse cx="563.22" cy="626.30" rx="17.33" ry="12.17" transform="rotate(-45 563.22 626.30)" fill="#fdd9c5"/>
<ellipse cx="598.49" cy="626.30" rx="19.06" ry="9.23" transform="rotate(-45 598.49 626.30)" fill="#eb9173"/>
<ellipse cx="633.75" cy="626.30" rx="9.23" ry="19.06" transform="rotate(-45 633.75 626.30)" fill="#3986bc"/>
<ellipse cx="422.13" cy="661.50" rx="12.97" ry="16.74" transform="rotate(-45 422.13 661.50)" fill="#aad1e5"/>
<ellipse cx="457.40" cy="661.50" rx="18.52" ry="10.27" transform="rotate(-45 457.40 661.50)" fill="#f5ab8a"/>
<ellipse cx="492.68" cy="661.50" rx="19.41" ry="8.47" transform="rotate(-45 492.68 661.50)" fill="#e37e64"/>
<path d="M492.68,657.75 v4.90 M490.55,658.98 l4.24,2.45 M490.55,661.43 l4.24,-2.45" stroke="#000" stroke-width="0.75"/>
<ellipse cx="527.95" cy="661.50" rx="19.18" ry="8.98" transform="rotate(-45 527.95 661.50)" fill="#e98b6e"/>
<path d="M527.95,657.75 v4.90 M525.82,658.98 l4.24,2.45 M525.82,661.43 l4.24,-2.45" stroke="#000" stroke-width="0.75"/>
<ellipse cx="563.22" cy="661.50" rx="18.52" ry="10.27" transform="rotate(-45 563.22 661.50)" fill="#f5ab8a"/>
<ellipse cx="598.49" cy="661.50" rx="20.09" ry="6.70" transform="rotate(-45 598.49 661.50)" fill="#d2594a"/>
<path d="M598.49,657.75 v4.90 M596.36,658.98 l4.24,2.45 M596.36,661.43 l4.24,-2.45" stroke="#000" stroke-width="0.75"/>
<ellipse cx="633.75" cy="661.50" rx="8.20" ry="19.52" transform="rotate(-45 633.75 661.50)" fill="#2d76b4"/>
<path d="M633.75,657.75 v4.90 M631.63,658.98 l4.24,2.45 M631.63,661.43 l4.24,-2.45" stroke="#000" stroke-width="0.75"/>
<ellipse cx="422.13" cy="696.70" rx="13.56" ry="16.27" transform="rotate(-45 422.13 696.70)" fill="#bddbea"/>
<ellipse cx="457.40" cy="696.70" rx="17.46" ry="11.98" transform="rotate(-45 457.40 696.70)" fill="#fcd5bf"/>
<ellipse cx="492.68" cy="696.70" rx="18.16" ry="10.90" transform="rotate(-45 492.68 696.70)" fill="#f7ba9d"/>
<ellipse cx="527.95" cy="696.70" rx="15.92" ry="13.97" transform="rotate(-45 527.95 696.70)" fill="#fffcfa"/>
<ellipse cx="563.22" cy="696.70" rx="14.67" ry="15.27" transform="rotate(-45 563.22 696.70)" fill="#e0edf5"/>
<ellipse cx="598.49" cy="696.70" rx="20.59" ry="4.97" transform="rotate(-45 598.49 696.70)" fill="#c43c3c"/>
<path d="M598.49,692.95 v4.90 M596.36,694.17 l4.24,2.45 M596.36,696.62 l4.24,-2.45" stroke="#000" stroke-width="0.75"/>
<ellipse cx="633.75" cy="696.70" rx="10.59" ry="18.34" transform="rotate(-45 633.75 696.70)" fill="#57a0ca"/>
<ellipse cx="422.13" cy="731.90" rx="15.71" ry="14.21" transform="rotate(-45 422.13 731.90)" fill="#fdfefe"/>
<ellipse cx="457.40" cy="731.90" rx="15.56" ry="14.36" transform="rotate(-45 457.40 731.90)" fill="#f9fbfd"/>
<ellipse cx="492.68" cy="731.90" rx="15.34" ry="14.60" transform="rotate(-45 492.68 731.90)" fill="#f2f8fb"/>
<ellipse cx="527.95" cy="731.90" rx="17.84" ry="11.40" transform="rotate(-45 527.95 731.90)" fill="#f9c6ac"/>
<ellipse cx="563.22" cy="731.90" rx="19.87" ry="7.34" transform="rotate(-45 563.22 731.90)" fill="#d86651"/>
<path d="M563.22,728.15 v4.90 M561.09,729.38 l4.24,2.45 M561.09,731.83 l4.24,-2.45" stroke="#000" stroke-width="0.75"/>
<ellipse cx="598.49" cy="731.90" rx="14.52" ry="15.42" transform="rotate(-45 598.49 731.90)" fill="#dcebf3"/>
<ellipse cx="633.75" cy="731.90" rx="13.23" ry="16.54" transform="rotate(-45 633.75 731.90)" fill="#b2d5e7"/>
<ellipse cx="422.13" cy="767.10" rx="14.97" ry="14.97" transform="rotate(-45 422.13 767.10)" fill="#e8f2f8"/>
<ellipse cx="457.40" cy="767.10" rx="13.89" ry="15.99" transform="rotate(-45 457.40 767.10)" fill="#c9e1ee"/>
<ellipse cx="492.68" cy="767.10" rx="11.60" ry="17.72" transform="rotate(-45 492.68 767.10)" fill="#7ab6d6"/>
<ellipse cx="527.95" cy="767.10" rx="14.97" ry="14.97" transform="rotate(-45 527.95 767.10)" fill="#e8f2f8"/>
<ellipse cx="563.22" cy="767.10" rx="17.07" ry="12.53" transform="rotate(-45 563.22 767.10)" fill="#fde0cf"/>
<ellipse cx="598.49" cy="767.10" rx="11.60" ry="17.72" transform="rotate(-45 598.49 767.10)" fill="#7ab6d6"/>
<ellipse cx="633.75" cy="767.10" rx="16.68" ry="13.05" transform="rotate(-45 633.75 767.10)" fill="#feeadf"/>
<g class="sans" font-size="8.2" fill="#111">
<text transform="translate(424.63,537.30) rotate(-90)">Acetate</text>
<text transform="translate(459.90,537.30) rotate(-90)">Cytidine</text>
<text transform="translate(495.18,537.30) rotate(-90)">Glutamate</text>
<text transform="translate(530.45,537.30) rotate(-90)">Glutamine</text>
<text transform="translate(565.72,537.30) rotate(-90)">Glutathione</text>
<text transform="translate(600.99,537.30) rotate(-90)">Glycine</text>
<text transform="translate(636.25,537.30) rotate(-90)">Nicotinamide</text>
</g>
<g class="sans" font-size="8.4" fill="#111" text-anchor="end">
<text x="402.2" y="555.00">Body</text>
<text x="402.2" y="564.80">weight</text>
<text x="402.2" y="590.50">Ejaculation</text>
<text x="402.2" y="598.00">volume</text>
<text x="402.2" y="625.70">Sperm</text>
<text x="402.2" y="633.70">motility</text>
<text x="402.2" y="664.90">Sperm</text>
<text x="402.2" y="672.70">density</text>
<text x="402.2" y="697.90" textLength="22" lengthAdjust="spacingAndGlyphs">T-AOC</text>
<text x="402.2" y="730.00">Testes</text>
<text x="402.2" y="739.10">weight</text>
<text x="402.2" y="765.70">Testicular</text>
<text x="402.2" y="773.70">index</text>
</g>
<rect x="655.50" y="538.40" width="8.20" height="246.20" fill="url(#cb)"/>
<g stroke="#bbb" stroke-width="0.6">
<path d="M663.70,538.40 h1.6"/>
<path d="M663.70,563.02 h1.6"/>
<path d="M663.70,587.64 h1.6"/>
<path d="M663.70,612.26 h1.6"/>
<path d="M663.70,636.88 h1.6"/>
<path d="M663.70,661.50 h1.6"/>
<path d="M663.70,686.12 h1.6"/>
<path d="M663.70,710.74 h1.6"/>
<path d="M663.70,735.36 h1.6"/>
<path d="M663.70,759.98 h1.6"/>
<path d="M663.70,784.60 h1.6"/>
</g>
<g class="sans" font-size="10.5" fill="#111" text-anchor="middle" letter-spacing="0.2">
<text x="677.20" y="542.70">1</text>
<text x="677.20" y="567.32">0.8</text>
<text x="677.20" y="591.94">0.6</text>
<text x="677.20" y="616.56">0.4</text>
<text x="677.20" y="641.18">0.2</text>
<text x="677.20" y="665.80">0</text>
<text x="677.20" y="690.42">-0.2</text>
<text x="677.20" y="715.04">-0.4</text>
<text x="677.20" y="739.66">-0.6</text>
<text x="677.20" y="764.28">-0.8</text>
<text x="677.20" y="788.90">-1</text>
</g>
</svg></body></html>
